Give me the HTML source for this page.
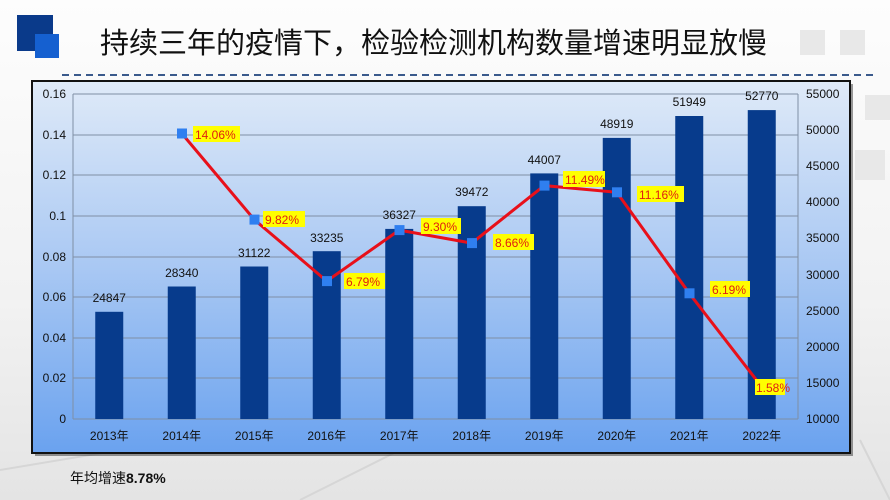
<!DOCTYPE html>
<html><head><meta charset="utf-8"><style>
html,body{margin:0;padding:0;width:890px;height:500px;overflow:hidden;background:#fff;}
</style></head><body>
<svg width="890" height="500" xmlns="http://www.w3.org/2000/svg" font-family="Liberation Sans, Noto Sans CJK SC, sans-serif">
<defs>
<linearGradient id="bg" x1="0" y1="0" x2="0" y2="1"><stop offset="0" stop-color="#fdfdfd"/><stop offset="0.6" stop-color="#f2f2f2"/><stop offset="1" stop-color="#e4e4e4"/></linearGradient>
<linearGradient id="ch" x1="0" y1="0" x2="0" y2="1"><stop offset="0" stop-color="#dfeaf8"/><stop offset="0.5" stop-color="#a9c8f3"/><stop offset="1" stop-color="#6aa2ef"/></linearGradient>
</defs>
<rect width="890" height="500" fill="url(#bg)"/>
<g stroke="#d6d6d6" stroke-width="2" fill="none"><path d="M0 470 L300 420"/><path d="M300 500 L420 440"/><path d="M860 440 L890 500"/></g>
<g fill="#e8e8e8"><rect x="800" y="30" width="25" height="25"/><rect x="840" y="30" width="25" height="25"/><rect x="865" y="95" width="25" height="25"/><rect x="855" y="150" width="30" height="30"/></g>
<rect x="17" y="15" width="36" height="36" fill="#0a3a8a"/>
<rect x="35" y="34" width="24" height="24" fill="#1560d0"/>
<text x="100" y="53" font-size="29" fill="#111">持续三年的疫情下，检验检测机构数量增速明显放慢</text>
<line x1="62" y1="75" x2="876" y2="75" stroke="#3a5a8c" stroke-width="2" stroke-dasharray="7,5"/>
<rect x="35" y="84" width="818" height="372" fill="#333" opacity="0.5"/>
<rect x="32" y="81" width="818" height="372" fill="url(#ch)" stroke="#111" stroke-width="2"/>
<g stroke="#7f8fa5" stroke-width="1">
<line x1="73" y1="94" x2="798" y2="94"/><line x1="73" y1="135" x2="798" y2="135"/><line x1="73" y1="175" x2="798" y2="175"/><line x1="73" y1="216" x2="798" y2="216"/><line x1="73" y1="257" x2="798" y2="257"/><line x1="73" y1="297" x2="798" y2="297"/><line x1="73" y1="338" x2="798" y2="338"/><line x1="73" y1="378" x2="798" y2="378"/><line x1="73" y1="419" x2="798" y2="419"/>
<line x1="73" y1="94" x2="73" y2="419"/><line x1="798" y1="94" x2="798" y2="419"/>
</g>
<g font-size="12" fill="#111" text-anchor="end">
<text x="66" y="98">0.16</text><text x="66" y="139">0.14</text><text x="66" y="179">0.12</text><text x="66" y="220">0.1</text><text x="66" y="261">0.08</text><text x="66" y="301">0.06</text><text x="66" y="342">0.04</text><text x="66" y="382">0.02</text><text x="66" y="423">0</text>
</g>
<g font-size="12" fill="#111">
<text x="806" y="98">55000</text><text x="806" y="134">50000</text><text x="806" y="170">45000</text><text x="806" y="206">40000</text><text x="806" y="242">35000</text><text x="806" y="279">30000</text><text x="806" y="315">25000</text><text x="806" y="351">20000</text><text x="806" y="387">15000</text><text x="806" y="423">10000</text>
</g>
<g fill="#073b8c">
<rect x="95.25" y="311.8" width="28" height="107.2"/><rect x="167.75" y="286.5" width="28" height="132.5"/><rect x="240.25" y="266.5" width="28" height="152.5"/><rect x="312.75" y="251.2" width="28" height="167.8"/><rect x="385.25" y="228.9" width="28" height="190.1"/><rect x="457.75" y="206.2" width="28" height="212.8"/><rect x="530.25" y="173.4" width="28" height="245.6"/><rect x="602.75" y="137.9" width="28" height="281.1"/><rect x="675.25" y="116" width="28" height="303"/><rect x="747.75" y="110.1" width="28" height="308.9"/>
</g>
<g font-size="12" fill="#111" text-anchor="middle">
<text x="109.25" y="302">24847</text><text x="181.75" y="277">28340</text><text x="254.25" y="257">31122</text><text x="326.75" y="242">33235</text><text x="399.25" y="219">36327</text><text x="471.75" y="196">39472</text><text x="544.25" y="164">44007</text><text x="616.75" y="128">48919</text><text x="689.25" y="106">51949</text><text x="761.75" y="100">52770</text>
</g>
<g font-size="12" fill="#111" text-anchor="middle">
<text x="109.25" y="440">2013年</text><text x="181.75" y="440">2014年</text><text x="254.25" y="440">2015年</text><text x="326.75" y="440">2016年</text><text x="399.25" y="440">2017年</text><text x="471.75" y="440">2018年</text><text x="544.25" y="440">2019年</text><text x="616.75" y="440">2020年</text><text x="689.25" y="440">2021年</text><text x="761.75" y="440">2022年</text>
</g>
<polyline points="181.75,133.4 254.25,219.6 326.75,281.1 399.25,230.1 471.75,243.1 544.25,185.6 616.75,192.3 689.25,293.3 761.75,386.9" fill="none" stroke="#e8101a" stroke-width="3"/>
<g fill="#2f7ff0">
<rect x="177" y="128.5" width="10" height="10"/><rect x="249.5" y="214.6" width="10" height="10"/><rect x="322" y="276.1" width="10" height="10"/><rect x="394.5" y="225.1" width="10" height="10"/><rect x="467" y="238.1" width="10" height="10"/><rect x="539.5" y="180.6" width="10" height="10"/><rect x="612" y="187.3" width="10" height="10"/><rect x="684.5" y="288.3" width="10" height="10"/><rect x="757" y="381.9" width="10" height="10"/>
</g>
<g fill="#ffff00">
<rect x="193" y="126" width="47" height="16"/><rect x="263" y="211" width="42" height="16"/><rect x="344" y="273" width="41" height="16"/><rect x="421" y="218" width="40" height="16"/><rect x="493" y="234" width="41" height="16"/><rect x="563" y="171" width="42" height="16"/><rect x="637" y="186" width="47" height="16"/><rect x="710" y="281" width="40" height="16"/><rect x="755" y="379" width="30" height="16"/>
</g>
<g font-size="12" fill="#e02010">
<text x="195" y="139">14.06%</text><text x="265" y="224">9.82%</text><text x="346" y="286">6.79%</text><text x="423" y="231">9.30%</text><text x="495" y="247">8.66%</text><text x="565" y="184">11.49%</text><text x="639" y="199">11.16%</text><text x="712" y="294">6.19%</text><text x="756" y="392">1.58%</text>
</g>
<text x="70" y="483" font-size="14" fill="#111">年均增速<tspan font-weight="bold">8.78%</tspan></text>
</svg>
</body></html>
